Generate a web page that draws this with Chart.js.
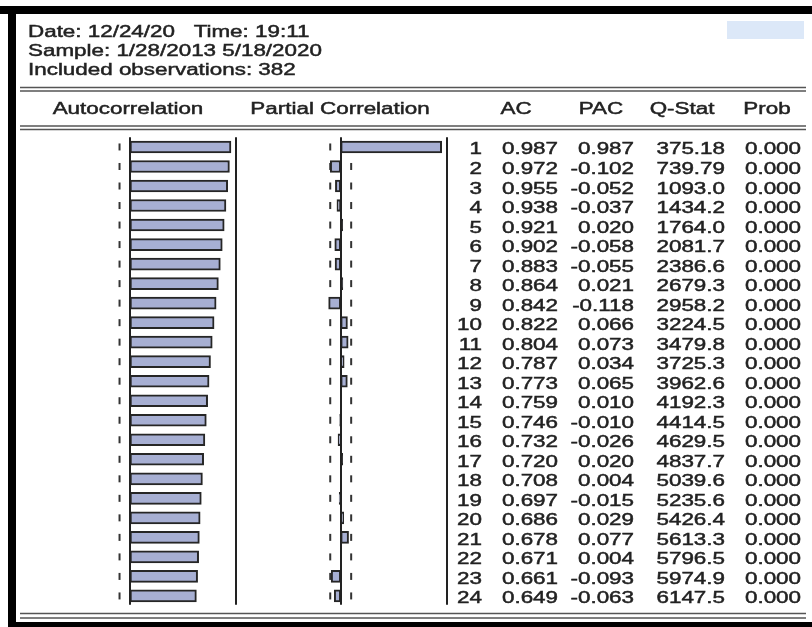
<!DOCTYPE html>
<html>
<head>
<meta charset="utf-8">
<script src="https://cdn.jsdelivr.net/npm/chart.js@4/dist/chart.umd.min.js"></script>
<style>
  html, body { margin: 0; padding: 0; background: #fff; }
  #wrap { width: 812px; height: 627px; }
</style>
</head>
<body>
<div id="wrap"><canvas id="chart" width="812" height="627"></canvas></div>
<script>
// correlogram values
var lags = ['1','2','3','4','5','6','7','8','9','10','11','12','13','14','15','16','17','18','19','20','21','22','23','24'];
var ac = [0.987, 0.972, 0.955, 0.938, 0.921, 0.902, 0.883, 0.864, 0.842, 0.822, 0.804, 0.787,
          0.773, 0.759, 0.746, 0.732, 0.720, 0.708, 0.697, 0.686, 0.678, 0.671, 0.661, 0.649];
var pac = [0.987, -0.102, -0.052, -0.037, 0.020, -0.058, -0.055, 0.021, -0.118, 0.066, 0.073, 0.034,
           0.065, 0.010, -0.010, -0.026, 0.020, 0.004, -0.015, 0.029, 0.077, 0.004, -0.093, -0.063];
var qStat = [375.18, 739.79, 1093.0, 1434.2, 1764.0, 2081.7, 2386.6, 2679.3, 2958.2, 3224.5, 3479.8, 3725.3,
             3962.6, 4192.3, 4414.5, 4629.5, 4837.7, 5039.6, 5235.6, 5426.4, 5613.3, 5796.5, 5974.9, 6147.5];
var prob = [0, 0, 0, 0, 0, 0, 0, 0, 0, 0, 0, 0, 0, 0, 0, 0, 0, 0, 0, 0, 0, 0, 0, 0];
var nObs = 382;
var headerLines = ['Date: 12/24/20   Time: 19:11', 'Sample: 1/28/2013 5/18/2020', 'Included observations: 382'];
var columnTitles = ['Autocorrelation', 'Partial Correlation', 'AC', 'PAC', 'Q-Stat', 'Prob'];

var chartLeft = 20, chartRight = 806;
var pxPerUnit = 102.3;
var FONT = '16px "Liberation Sans", Arial, sans-serif';
var STRETCH = 1.4;
var INK = '#222';

function rangeFor(zeroPx) {
  var min = -(zeroPx - chartLeft) / pxPerUnit;
  return { min: min, max: min + (chartRight - chartLeft) / pxPerUnit };
}
var acRange = rangeFor(130);
var pacRange = rangeFor(340.7);
var band = 2 / Math.sqrt(nObs);
var edge = 1.035;

// text in the screenshot is stretched sideways and a bit heavy
function stretchedText(ctx, str, x, y, align) {
  ctx.save();
  ctx.translate(x, y);
  ctx.scale(STRETCH, 1);
  ctx.textAlign = align;
  ctx.lineWidth = 0.45;
  ctx.strokeStyle = ctx.fillStyle;
  ctx.fillText(str, 0, 0);
  ctx.strokeText(str, 0, 0);
  ctx.restore();
}

function hline(ctx, y) {
  ctx.beginPath();
  ctx.moveTo(chartLeft, y);
  ctx.lineTo(chartRight, y);
  ctx.stroke();
}

var framePlugin = {
  id: 'frame',
  beforeDatasetsDraw: function(chart) {
    var ctx = chart.ctx;
    var y = chart.scales.y;
    // confidence band ticks
    ctx.save();
    ctx.fillStyle = '#333';
    lags.forEach(function(l, i) {
      var cy = y.getPixelForValue(i);
      [chart.scales.x.getPixelForValue(-band), chart.scales.x.getPixelForValue(band),
       chart.scales.x2.getPixelForValue(-band), chart.scales.x2.getPixelForValue(band)].forEach(function(px) {
        ctx.fillRect(px - 1, cy - 3.5, 2, 7);
      });
    });
    ctx.restore();
  },
  afterDraw: function(chart) {
    var ctx = chart.ctx;
    var area = chart.chartArea;
    var y = chart.scales.y;
    ctx.save();

    // black frame
    ctx.fillStyle = '#000';
    ctx.fillRect(0, 6, 812, 8);
    ctx.fillRect(8, 6, 8, 621);
    ctx.fillRect(8, 622, 804, 5);
    ctx.fillStyle = '#dce8f8';
    ctx.fillRect(727, 21, 77, 18);

    // double rules
    ctx.strokeStyle = '#555';
    ctx.lineWidth = 1.5;
    [87.5, 91, 126, 129.5, 613.5, 618].forEach(function(v) { hline(ctx, v); });

    // axis and edge lines
    ctx.strokeStyle = INK;
    ctx.lineWidth = 2;
    ['x', 'x2'].forEach(function(id) {
      [0, edge].forEach(function(v) {
        var px = Math.round(chart.scales[id].getPixelForValue(v));
        ctx.beginPath();
        ctx.moveTo(px, area.top);
        ctx.lineTo(px, area.bottom - 1);
        ctx.stroke();
      });
    });

    // text
    ctx.fillStyle = INK;
    ctx.font = FONT;
    ctx.textBaseline = 'alphabetic';
    headerLines.forEach(function(t, i) {
      stretchedText(ctx, t, 28, 37 + i * 19, 'left');
    });
    var titleX = [128, 340, 516, 601, 682, 767];
    columnTitles.forEach(function(t, i) {
      stretchedText(ctx, t, titleX[i], 114, 'center');
    });
    lags.forEach(function(l, i) {
      var by = y.getPixelForValue(i) + 7.5;
      stretchedText(ctx, l, 482, by, 'right');
      stretchedText(ctx, ac[i].toFixed(3), 558, by, 'right');
      stretchedText(ctx, pac[i].toFixed(3), 634, by, 'right');
      stretchedText(ctx, qStat[i].toPrecision(5), 725, by, 'right');
      stretchedText(ctx, prob[i].toFixed(3), 801, by, 'right');
    });
    ctx.restore();
  }
};

var barFill = '#a7afd3';
var barEdge = '#262626';

var chart = new Chart(document.getElementById('chart'), {
  type: 'bar',
  data: {
    labels: lags,
    datasets: [{
      label: 'Autocorrelation',
      data: ac,
      xAxisID: 'x',
      backgroundColor: barFill,
      borderColor: barEdge,
      borderWidth: 2,
      borderSkipped: false,
      barThickness: 12,
      grouped: false
    }, {
      label: 'Partial Correlation',
      data: pac,
      xAxisID: 'x2',
      backgroundColor: barFill,
      borderColor: barEdge,
      borderWidth: 2,
      borderSkipped: false,
      barThickness: 12,
      grouped: false
    }]
  },
  options: {
    indexAxis: 'y',
    responsive: false,
    animation: false,
    layout: { padding: { left: chartLeft, right: 812 - chartRight, top: 137.2, bottom: 627 - 605.7 } },
    plugins: { legend: { display: false }, tooltip: { enabled: false }, title: { display: false } },
    scales: {
      x: { type: 'linear', display: false, min: acRange.min, max: acRange.max },
      x2: { type: 'linear', axis: 'x', position: 'top', display: false, min: pacRange.min, max: pacRange.max },
      y: { type: 'category', display: false, offset: true }
    }
  },
  plugins: [framePlugin]
});
</script>
</body>
</html>
